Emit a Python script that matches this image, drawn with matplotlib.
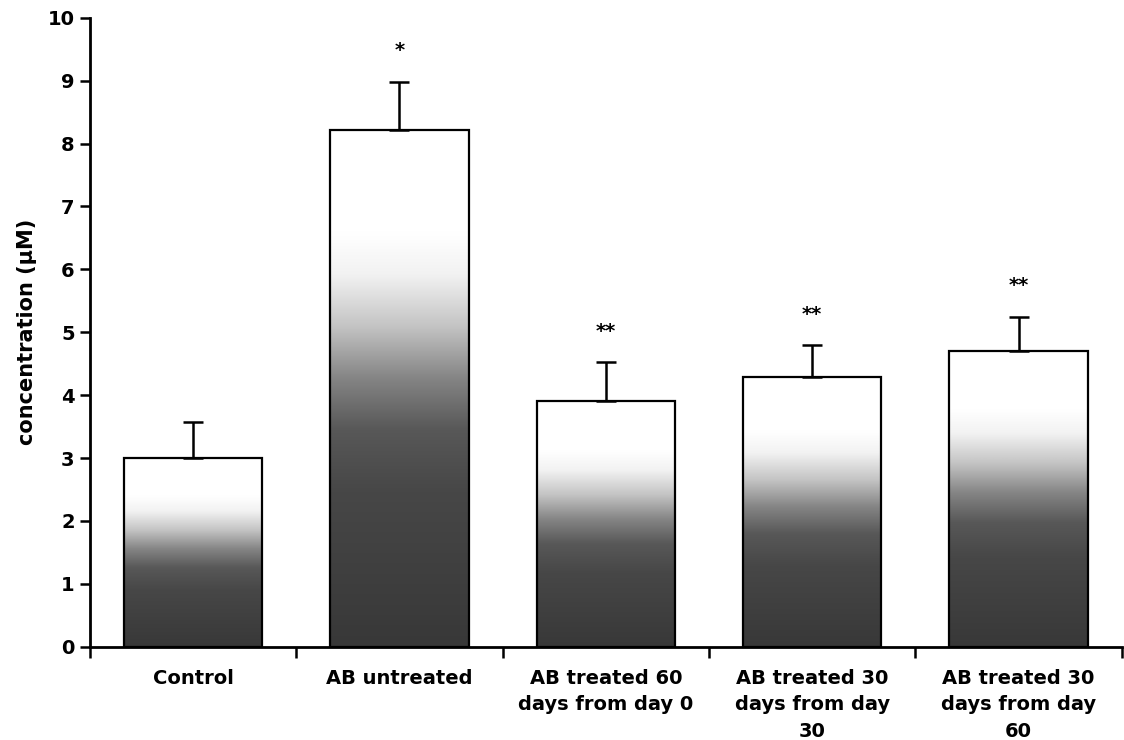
import numpy as np
import matplotlib
matplotlib.use("Agg")
import matplotlib.pyplot as plt
from matplotlib.colors import LinearSegmentedColormap

categories = [
    "Control",
    "AB untreated",
    "AB treated 60\ndays from day 0",
    "AB treated 30\ndays from day\n30",
    "AB treated 30\ndays from day\n60",
]
means = [3.0, 8.22, 3.90, 4.29, 4.71]
errors = [0.58, 0.76, 0.62, 0.50, 0.53]
marks = ["", "*", "**", "**", "**"]


def main() -> None:
    plt.rcParams["font.family"] = ["DejaVu Sans"]
    plt.rcParams["font.weight"] = "bold"

    fig = plt.figure(figsize=(11.24, 7.4), dpi=100)
    ax = fig.add_axes([0.080, 0.126, 0.918, 0.850])

    # grey shading: dark at the foot of each bar, fading to white near the top
    shade = LinearSegmentedColormap.from_list(
        "shade",
        [(0.0, "#383838"), (0.3, "#474747"), (0.42, "#585858"),
         (0.52, "#858585"), (0.62, "#c4c4c4"), (0.72, "#f2f2f2"),
         (0.80, "#ffffff"), (1.0, "#ffffff")],
    )
    grad = np.linspace(0, 1, 256).reshape(-1, 1)

    x = np.arange(len(categories))
    width = 0.67
    for xi, h in zip(x, means):
        ax.imshow(grad, cmap=shade, origin="lower", aspect="auto",
                  extent=[xi - width / 2, xi + width / 2, 0, h], zorder=1,
                  interpolation="bicubic", vmin=0, vmax=1)
    ax.bar(x, means, width=width, facecolor="none", edgecolor="black",
           linewidth=1.6, zorder=2)
    ax.errorbar(x, means, yerr=[np.zeros(len(errors)), errors], fmt="none",
                ecolor="black", elinewidth=1.8, capsize=7, capthick=1.8, zorder=3)

    for xi, m, e, s in zip(x, means, errors, marks):
        if s:
            ax.text(xi, m + e + 0.5, s, ha="center", va="center",
                    fontsize=14, fontweight="bold")

    ax.set_xlim(-0.5, len(categories) - 0.5)
    ax.set_ylim(0, 10)
    ax.set_yticks(range(0, 11))
    ax.set_xticks(x)
    ax.set_xticklabels(categories, fontsize=14, fontweight="bold", linespacing=1.5,
                       va="top")
    ax.set_xticks(np.arange(-0.5, len(categories)), minor=True)
    ax.tick_params(axis="x", which="major", length=0, pad=16)
    ax.tick_params(axis="x", which="minor", length=8, width=1.8, direction="out")
    ax.tick_params(axis="y", length=7, width=1.8, direction="out", pad=4,
                   labelsize=14)
    for lab in ax.get_yticklabels():
        lab.set_fontweight("bold")

    ax.set_ylabel("concentration (µM)", fontsize=15, fontweight="bold", labelpad=8)

    ax.spines["top"].set_visible(False)
    ax.spines["right"].set_visible(False)
    ax.spines["left"].set_linewidth(2)
    ax.spines["bottom"].set_linewidth(2)

    fig.savefig("out.png", dpi=100)
    plt.close(fig)


if __name__ == "__main__":
    main()
